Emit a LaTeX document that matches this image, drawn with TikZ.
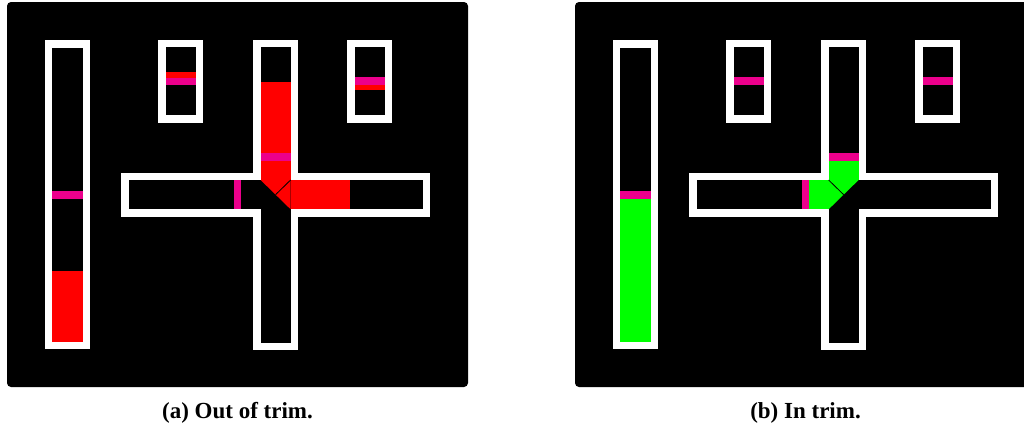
\documentclass[tikz,border=0pt]{standalone}
\usepackage{fontspec}
\setmainfont{Liberation Serif}
\definecolor{pk}{HTML}{EC008C}
\definecolor{rd}{HTML}{FF0000}
\definecolor{gn}{HTML}{00FF00}
\tikzset{
  panel/.style={fill=black, rounded corners=4pt},
  rim/.style={fill=white},
  hole/.style={fill=black},
  captext/.style={font=\bfseries\fontsize{23}{26}\selectfont, inner sep=0pt},
  divider/.style={draw=black, line width=0.8pt}
}
\newcommand{\frames}{%
  \fill[panel] (7,2) rectangle (468,387);
  % tall box
  \fill[rim] (44.7,40) rectangle (90,349.3);
  \fill[hole] (52.3,47.5) rectangle (82.5,342);
  % small boxes
  \fill[rim] (158.3,39.7) rectangle (203.3,122.7);
  \fill[hole] (165.8,47.3) rectangle (195.9,115.3);
  \fill[rim] (347.3,39.7) rectangle (392.3,122.7);
  \fill[hole] (354.8,47.3) rectangle (384.9,115.3);
  % cross
  \fill[rim] (253,39.7) rectangle (298.2,350);
  \fill[rim] (121,172.5) rectangle (430,216.7);
  \fill[hole] (260.6,47.3) rectangle (290.6,342.5);
  \fill[hole] (128.5,180) rectangle (422.6,209.3);
}
\begin{document}
\begin{tikzpicture}[x=1pt,y=-1pt]
\useasboundingbox (0,0) rectangle (1024,431);
\clip (0,0) rectangle (1024,431);
\fill[white] (0,0) rectangle (1024,431);
% ---------- panel (a)
\begin{scope}
  \frames
  \fill[rd] (52.3,270.7) rectangle (82.5,342);
  \fill[pk] (52.3,191) rectangle (82.5,198.7);
  \fill[rd] (165.8,72.3) rectangle (195.9,77.7);
  \fill[pk] (165.8,77.7) rectangle (195.9,85);
  \fill[pk] (354.8,77.3) rectangle (384.9,85);
  \fill[rd] (354.8,85) rectangle (384.9,90);
  \fill[rd] (260.6,82) rectangle (290.6,180);
  \fill[pk] (260.6,152.7) rectangle (290.6,160.7);
  \fill[rd] (260.6,180) -- (290.6,180) -- (290.6,209.3) -- cycle;
  \fill[rd] (290.6,180) rectangle (350,209.3);
  \fill[pk] (234,180) rectangle (241,209.3);
  \coordinate (aNE) at (290.6,180);
  \coordinate (aC) at (275.6,194.65);
  \draw[divider] (aNE) -- (aC);
  \node[captext] (capa) at (237.5,413) {(a) Out of trim.};
\end{scope}
% ---------- panel (b)
\begin{scope}[xshift=568pt]
  \frames
  \fill[gn] (52.3,198.7) rectangle (82.5,342);
  \fill[pk] (52.3,191) rectangle (82.5,198.7);
  \fill[pk] (165.8,77.3) rectangle (195.9,85);
  \fill[pk] (354.8,77.3) rectangle (384.9,85);
  \fill[gn] (260.6,160.7) rectangle (290.6,180);
  \fill[pk] (260.6,152.7) rectangle (290.6,160.7);
  \fill[gn] (260.6,180) -- (290.6,180) -- (260.6,209.3) -- cycle;
  \fill[gn] (241,180) rectangle (260.6,209.3);
  \fill[pk] (234,180) rectangle (241,209.3);
  \coordinate (bNW) at (260.6,180);
  \coordinate (bC) at (275.6,194.65);
  \draw[divider] (bNW) -- (bC);
  \node[captext] (capb) at (237.5,413) {(b) In trim.};
\end{scope}
\end{tikzpicture}
\end{document}
